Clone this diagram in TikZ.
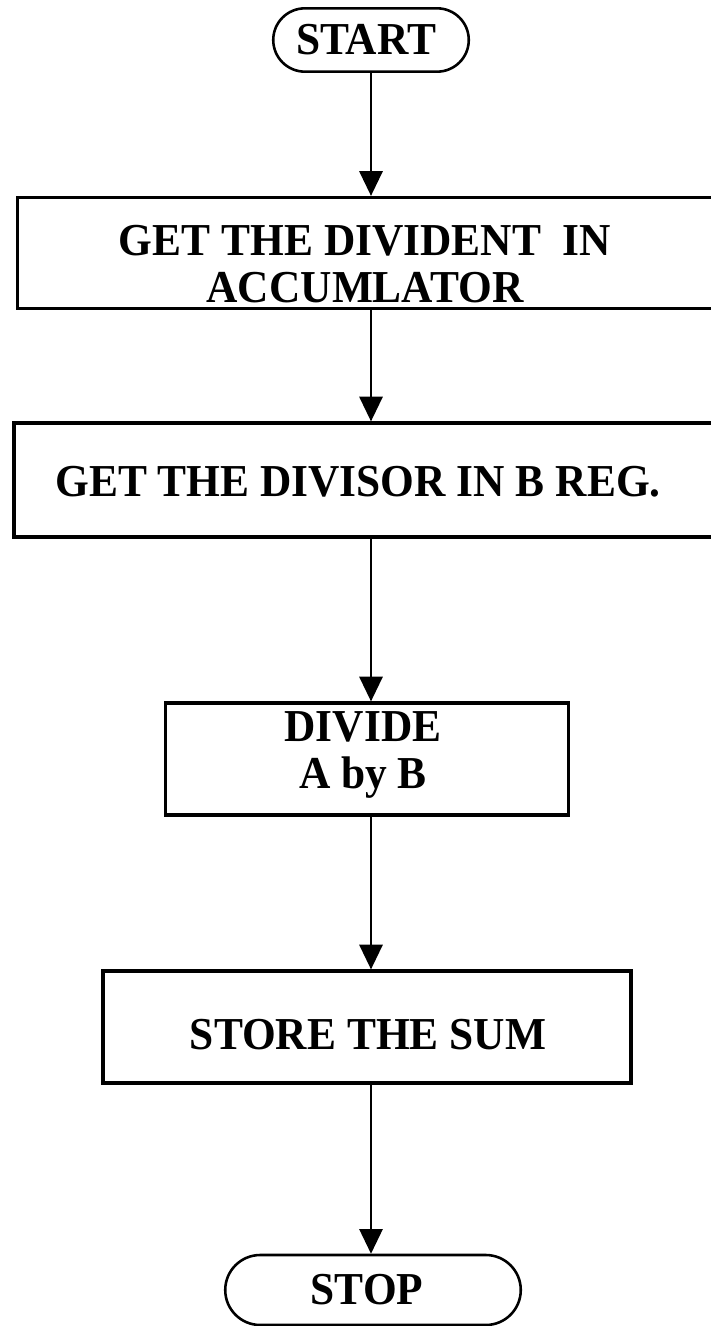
\documentclass[tikz,border=0pt]{standalone}
\usepackage{fontspec}
\setmainfont{Liberation Serif}[FakeStretch=0.95]
\usetikzlibrary{shapes.misc,arrows.meta}

\begin{document}
\begin{tikzpicture}[
  x=0.03cm, y=-0.03cm,
  every node/.style={font=\fontsize{39}{40}\selectfont\bfseries, align=center},
  terminal/.style={rounded rectangle, draw, line width=2.2pt, minimum height=1.9cm},
  stepbox/.style={rectangle, draw, line width=2.8pt, minimum height=3.36cm},
  flow/.style={-{Triangle[width=0.7cm, length=0.74cm]}, line width=1.5pt}
]
\useasboundingbox (0,0) rectangle (711,1326);

% Shapes from top to bottom
\node[terminal, minimum width=6.1cm] (start) at (371,40) {};
\node[stepbox, minimum width=21.1cm, minimum height=3.33cm] (divident) at (369,253) {};
\node[stepbox, minimum width=21.3cm, minimum height=3.42cm] (divisor) at (369,480) {};
\node[stepbox, minimum width=12.1cm] (divide) at (367,759) {};
\node[stepbox, minimum width=15.84cm] (store) at (367,1027) {};
\node[terminal, minimum width=9.1cm, minimum height=2.1cm] (stop) at (373,1290) {};

% Texts
\node (starttext) at (366,40) {START};
\node (dividenttext) at (365,264) {GET THE DIVIDENT\ \ IN\\ACCUMLATOR};
\node (divisortext) at (358,482) {GET THE DIVISOR IN B REG.};
\node (dividetext) at (363,755) {DIVIDE\\A by B};
\node (storetext) at (368,1035) {STORE THE SUM};
\node (stoptext) at (367,1290) {STOP};

% Connectors
\draw[flow] (start.south) -- (start.south |- divident.north);
\draw[flow] (divident.south -| start.south) -- (start.south |- divisor.north);
\draw[flow] (divisor.south -| start.south) -- (start.south |- divide.north);
\draw[flow] (divide.south -| start.south) -- (start.south |- store.north);
\draw[flow] (store.south -| start.south) -- (start.south |- stop.north);

\end{tikzpicture}
\end{document}
